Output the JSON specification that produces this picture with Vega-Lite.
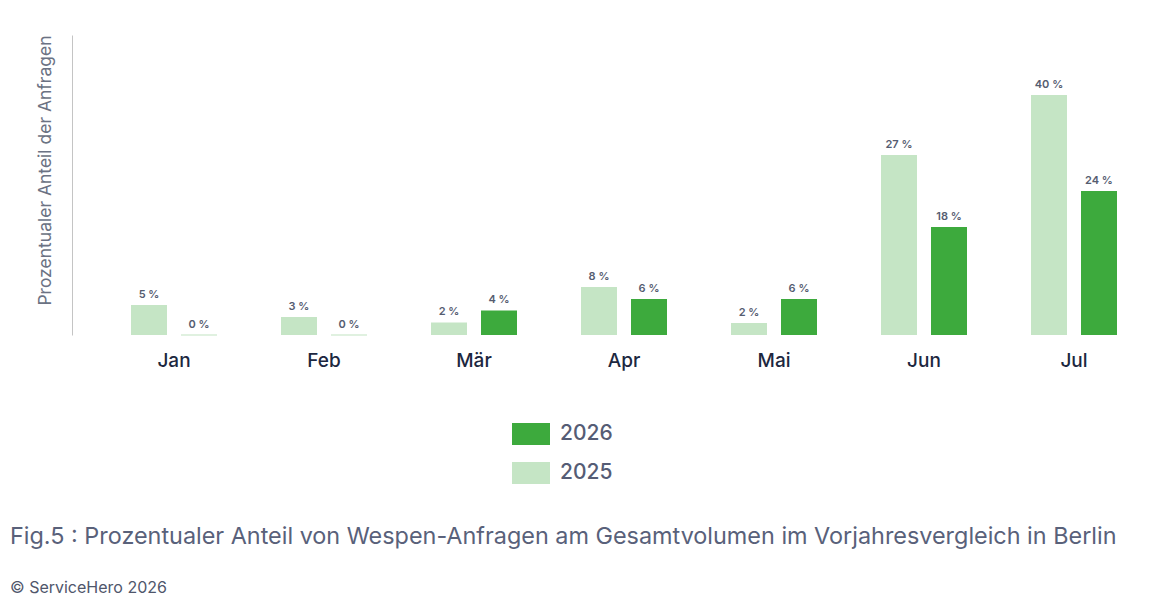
{
  "$schema": "https://vega.github.io/schema/vega-lite/v6.json",
  "autosize": {"type": "none"},
  "padding": {"left": 99, "top": 35, "right": 0, "bottom": 266},
  "width": 1050,
  "height": 300,
  "background": "white",
  "config": {
    "view": {"stroke": null},
    "font": "Inter",
    "title": {"font": "Inter"}
  },
  "title": {
    "text": "Fig.5 : Prozentualer Anteil von Wespen-Anfragen am Gesamtvolumen im Vorjahresvergleich in Berlin",
    "subtitle": "© ServiceHero 2026",
    "orient": "bottom",
    "anchor": "start",
    "frame": "group",
    "offset": 41,
    "dx": -89,
    "fontSize": 23.4,
    "fontWeight": "normal",
    "color": "#59617a",
    "subtitleFontSize": 16,
    "subtitleColor": "#4f566b",
    "subtitlePadding": 31
  },
  "data": {
    "values": [
      {"month": "Jan", "year": "2025", "share": 5, "label": "5 %"},
      {"month": "Jan", "year": "2026", "share": 0, "label": "0 %"},
      {"month": "Feb", "year": "2025", "share": 3, "label": "3 %"},
      {"month": "Feb", "year": "2026", "share": 0, "label": "0 %"},
      {"month": "Mär", "year": "2025", "share": 2.1, "label": "2 %"},
      {"month": "Mär", "year": "2026", "share": 4.1, "label": "4 %"},
      {"month": "Apr", "year": "2025", "share": 8, "label": "8 %"},
      {"month": "Apr", "year": "2026", "share": 6, "label": "6 %"},
      {"month": "Mai", "year": "2025", "share": 2, "label": "2 %"},
      {"month": "Mai", "year": "2026", "share": 6, "label": "6 %"},
      {"month": "Jun", "year": "2025", "share": 30, "label": "27 %"},
      {"month": "Jun", "year": "2026", "share": 18, "label": "18 %"},
      {"month": "Jul", "year": "2025", "share": 40, "label": "40 %"},
      {"month": "Jul", "year": "2026", "share": 24, "label": "24 %"}
    ]
  },
  "encoding": {
    "x": {
      "field": "month",
      "type": "nominal",
      "sort": ["Jan", "Feb", "Mär", "Apr", "Mai", "Jun", "Jul"],
      "scale": {"paddingInner": 0, "paddingOuter": 0},
      "axis": {
        "title": null,
        "domain": false,
        "ticks": false,
        "labelAngle": 0,
        "labelFontSize": 19,
        "labelFontWeight": 500,
        "labelColor": "#1c2740",
        "labelPadding": 16
      }
    },
    "xOffset": {
      "field": "year",
      "type": "nominal",
      "sort": ["2025", "2026"],
      "scale": {"paddingInner": 0.28, "paddingOuter": 0.64}
    },
    "y": {
      "field": "share",
      "type": "quantitative",
      "scale": {"domain": [0, 50], "nice": false},
      "axis": {
        "title": "Prozentualer Anteil  der Anfragen",
        "titleFontSize": 17.5,
        "titleFontWeight": "normal",
        "titleColor": "#6b7283",
        "titleAnchor": "end",
        "titlePadding": 18,
        "offset": 27,
        "domainColor": "#c4c4c4",
        "ticks": false,
        "labels": false,
        "grid": false
      }
    }
  },
  "layer": [
    {
      "mark": {"type": "bar"},
      "encoding": {
        "color": {
          "field": "year",
          "type": "nominal",
          "scale": {"domain": ["2026", "2025"], "range": ["#3daa3d", "#c5e5c5"]},
          "legend": {
            "title": null,
            "orient": "none",
            "legendX": 413,
            "legendY": 380,
            "symbolType": "M-1,-0.58H1V0.58H-1Z",
            "symbolSize": 1444,
            "symbolStrokeWidth": 0,
            "symbolOpacity": 1,
            "labelFontSize": 21,
            "labelFontWeight": 500,
            "labelColor": "#555c75",
            "labelOffset": 10,
            "rowPadding": 8
          }
        }
      }
    },
    {
      "transform": [{"filter": "datum.share == 0"}],
      "mark": {"type": "tick", "orient": "horizontal", "thickness": 1.5, "size": 36, "color": "#c5e5c5"}
    },
    {
      "mark": {"type": "text", "baseline": "bottom", "dy": -5, "fontSize": 11, "fontWeight": 600, "color": "#555c70"},
      "encoding": {"text": {"field": "label"}}
    }
  ]
}
